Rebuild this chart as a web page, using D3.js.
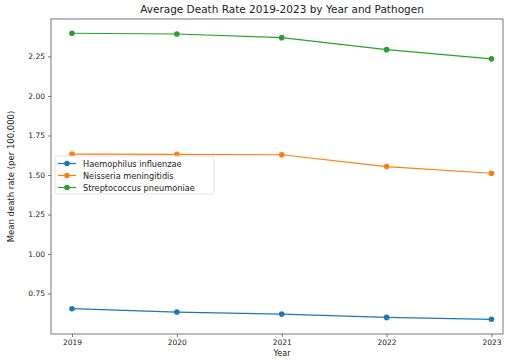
<!DOCTYPE html>
<html>
<head>
<meta charset="utf-8">
<script src="https://cdn.jsdelivr.net/npm/d3@7"></script>
<style>
  html, body { margin: 0; padding: 0; background: #fff; }
  svg { display: block; }
  text { font-family: "DejaVu Sans", sans-serif; fill: #222; }
</style>
</head>
<body>
<svg id="chart" width="508" height="360"></svg>
<script>
// Years on the x axis
const years = [2019, 2020, 2021, 2022, 2023];

// Mean death rate (per 100,000) by pathogen
const haemophilus = [0.654, 0.633, 0.620, 0.599, 0.587];
const neisseria = [1.632, 1.631, 1.628, 1.553, 1.511];
const streptococcus = [2.397, 2.392, 2.369, 2.293, 2.235];

const seriesNames = ["Haemophilus influenzae", "Neisseria meningitidis", "Streptococcus pneumoniae"];
const seriesColors = ["#1f77b4", "#ff7f0e", "#2ca02c"];
const yTicks = [0.75, 1.00, 1.25, 1.50, 1.75, 2.00, 2.25];

const series = [haemophilus, neisseria, streptococcus].map((vals, i) => ({
  name: seriesNames[i],
  color: seriesColors[i],
  points: years.map((yr, j) => ({ year: yr, value: vals[j] }))
}));

const svg = d3.select("#chart");
const plot = { left: 51, right: 503, top: 19, bottom: 334 };

const x = d3.scaleLinear().domain([2018.8, 2023.11]).range([plot.left, plot.right]);
const y = d3.scaleLinear().domain([0.494, 2.487]).range([plot.bottom, plot.top]);

// Frame
svg.append("rect")
  .attr("x", plot.left).attr("y", plot.top)
  .attr("width", plot.right - plot.left).attr("height", plot.bottom - plot.top)
  .attr("fill", "none").attr("stroke", "#555").attr("stroke-width", 0.8);

// Axes
const xAxis = d3.axisBottom(x).tickValues(years).tickFormat(d3.format("d")).tickSize(3).tickPadding(3);
const yAxis = d3.axisLeft(y).tickValues(yTicks).tickFormat(d3.format(".2f")).tickSize(3).tickPadding(3);

const gx = svg.append("g").attr("transform", `translate(0,${plot.bottom})`).call(xAxis);
const gy = svg.append("g").attr("transform", `translate(${plot.left},0)`).call(yAxis);
[gx, gy].forEach(g => {
  g.select(".domain").remove();
  g.selectAll(".tick line").attr("stroke", "#555").attr("stroke-width", 0.8);
  g.selectAll(".tick text").attr("font-size", 7.5).attr("fill", "#333")
    .style("font-family", "'DejaVu Sans', sans-serif");
});

// Lines and markers
const line = d3.line().x(d => x(d.year)).y(d => y(d.value));
series.forEach(s => {
  svg.append("path")
    .datum(s.points)
    .attr("d", line)
    .attr("fill", "none")
    .attr("stroke", s.color)
    .attr("stroke-width", 1.2);
  svg.append("g").selectAll("circle")
    .data(s.points)
    .enter().append("circle")
    .attr("cx", d => x(d.year))
    .attr("cy", d => y(d.value))
    .attr("r", 2.8)
    .attr("fill", s.color);
});

// Title and axis labels
svg.append("text")
  .attr("x", (plot.left + plot.right) / 2 + 5).attr("y", 13)
  .attr("text-anchor", "middle").attr("font-size", 10.5)
  .text("Average Death Rate 2019-2023 by Year and Pathogen");

svg.append("text")
  .attr("x", (plot.left + plot.right) / 2 + 5).attr("y", 356)
  .attr("text-anchor", "middle").attr("font-size", 8)
  .text("Year");

svg.append("text")
  .attr("transform", `translate(14,${(plot.top + plot.bottom) / 2}) rotate(-90)`)
  .attr("text-anchor", "middle").attr("font-size", 8.5)
  .text("Mean death rate (per 100,000)");

// Legend
const legend = svg.append("g").attr("transform", "translate(55,156)");
legend.append("rect")
  .attr("x", 0).attr("y", 0).attr("width", 159).attr("height", 38)
  .attr("rx", 2)
  .attr("fill", "#fff").attr("fill-opacity", 0.8)
  .attr("stroke", "#ddd").attr("stroke-width", 0.8);
series.forEach((s, i) => {
  const gy0 = 7.5 + i * 12;
  legend.append("line")
    .attr("x1", 3).attr("x2", 21).attr("y1", gy0).attr("y2", gy0)
    .attr("stroke", s.color).attr("stroke-width", 1.2);
  legend.append("circle").attr("cx", 12).attr("cy", gy0).attr("r", 2.8).attr("fill", s.color);
  legend.append("text")
    .attr("x", 28).attr("y", gy0 + 3).attr("font-size", 8.2)
    .text(s.name);
});
</script>
</body>
</html>
